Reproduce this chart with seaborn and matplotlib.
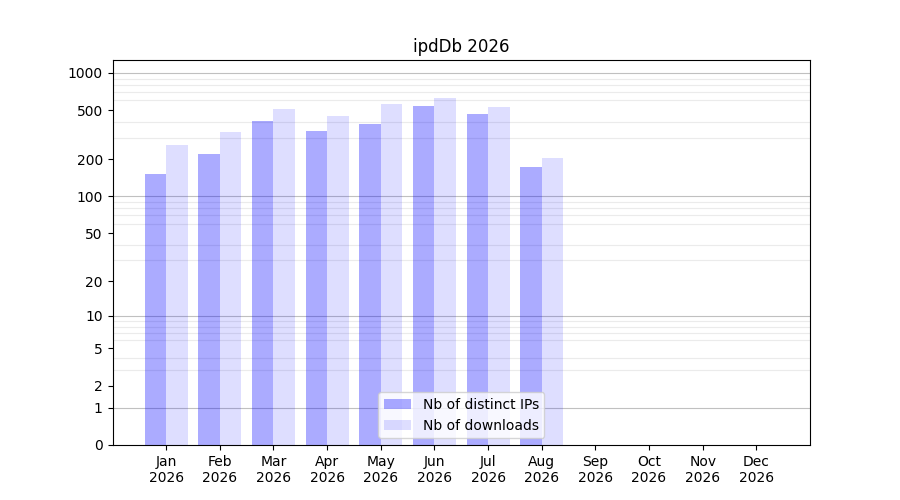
import matplotlib
matplotlib.use('Agg')
import matplotlib.pyplot as plt
import seaborn as sns
import numpy as np
import pandas as pd

# Data
months = ['Jan', 'Feb', 'Mar', 'Apr', 'May', 'Jun', 'Jul', 'Aug', 'Sep', 'Oct', 'Nov', 'Dec']
year = '2026'
distinct_ips = [153, 221, 409, 340, 387, 541, 466, 174]
downloads = [262, 334, 512, 449, 561, 628, 531, 205]
series_names = ['Nb of distinct IPs', 'Nb of downloads']
y_ticks = [0, 1, 2, 5, 10, 20, 50, 100, 200, 500, 1000]
decades = [1, 10, 100, 1000]

df = pd.DataFrame({
    'month': months[:len(distinct_ips)] * 2,
    'value': distinct_ips + downloads,
    'series': [series_names[0]] * len(distinct_ips) + [series_names[1]] * len(downloads),
})

fig, ax = plt.subplots(figsize=(9, 5), dpi=100)
sns.barplot(data=df, x='month', y='value', hue='series', order=months,
            hue_order=series_names, palette=['blue', 'blue'], ax=ax,
            width=0.8, legend=False)

# Semi transparent blue bars, like the original
for container, alpha in zip(ax.containers, [0.33, 0.13]):
    for patch in container:
        patch.set_facecolor((0, 0, 1, alpha))
        patch.set_edgecolor('none')
        patch.set_zorder(2)

ax.set_yscale('function', functions=(lambda v: np.log10(np.maximum(v, 0) + 1),
                                     lambda t: 10 ** t - 1))
ax.set_ylim(0, 1270)
ax.set_yticks(y_ticks)
ax.set_yticklabels([str(t) for t in y_ticks])

# light lines at 2..9 of each decade, darker ones on the decades
minor = [m * d for d in [1, 10, 100] for m in range(2, 10)]
ax.set_yticks(minor, minor=True)
ax.tick_params(axis='y', which='minor', length=0)
ax.set_axisbelow(True)
ax.grid(False)
ax.grid(True, axis='y', which='minor', color='#ebebeb', linewidth=0.8)
for d in decades:
    ax.axhline(d, color='#c0c0c0', linewidth=0.8, zorder=0.5)

ax.set_xlim(-1, len(months))
ax.set_xticks(range(len(months)))
ax.set_xticklabels([m + '\n' + year for m in months])
ax.set_xlabel('')
ax.set_ylabel('')
ax.set_title('ipdDb ' + year)

ax.legend(ax.containers, series_names, loc='lower center')

fig.savefig('out.png')
